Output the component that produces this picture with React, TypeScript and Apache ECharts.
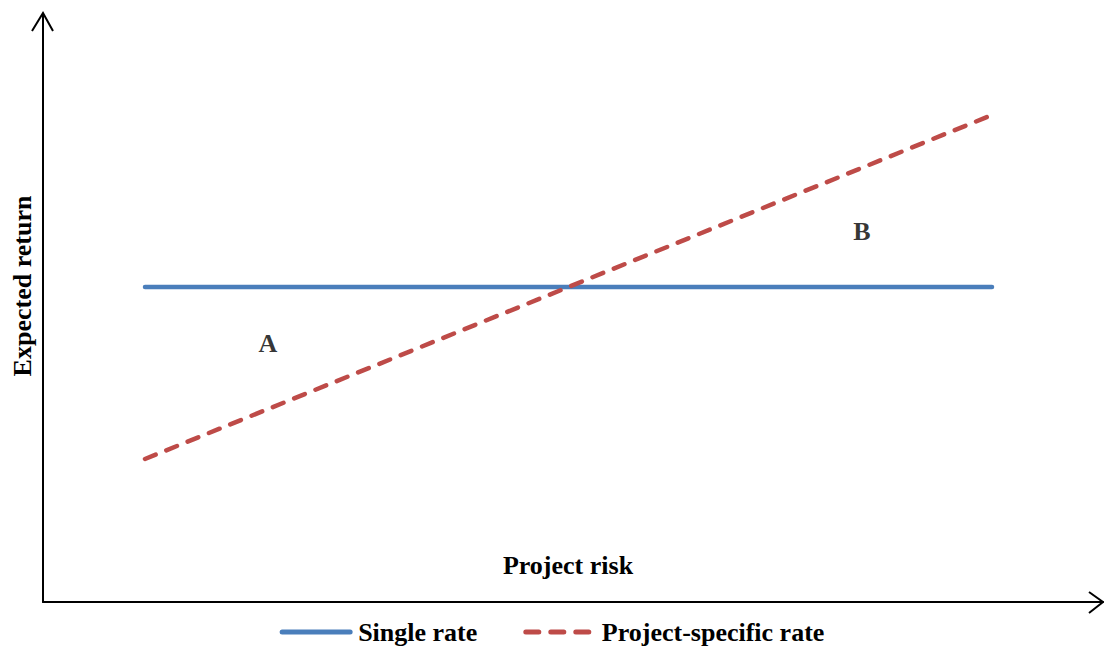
import React, { useEffect, useRef } from "react";
import * as echarts from "echarts";

const riskRange = [1.02, 9.49];
const singleRate = [3.15, 3.15];
const projectSpecificRate = [1.43, 4.87];
const regionLabels = [
  { name: "A", x: 2.25, y: 2.59 },
  { name: "B", x: 8.19, y: 3.71 },
];
const seriesNames = ["Single rate", "Project-specific rate"];
const xTitle = "Project risk";
const yTitle = "Expected return";

const FONT = "'Liberation Serif', 'Times New Roman', serif";
const FS = 26;

export default function App() {
  const ref = useRef<HTMLDivElement>(null);
  useEffect(() => {
    document.body.style.margin = "0";
    const chart = echarts.init(ref.current!, null, { renderer: "svg" });
    const axisColor = "#000";
    chart.setOption({
      animation: false,
      backgroundColor: "#fff",
      grid: { left: 43, top: 14, right: 1, bottom: 50 },
      xAxis: {
        type: "value",
        min: 0,
        max: 10.6,
        axisLine: { show: true, lineStyle: { color: axisColor, width: 2 } },
        axisTick: { show: false },
        axisLabel: { show: false },
        splitLine: { show: false },
      },
      yAxis: {
        type: "value",
        min: 0,
        max: 5.88,
        axisLine: { show: true, lineStyle: { color: axisColor, width: 2 } },
        axisTick: { show: false },
        axisLabel: { show: false },
        splitLine: { show: false },
      },
      legend: {
        bottom: 2,
        left: "center",
        itemWidth: 68,
        itemHeight: 14,
        itemGap: 46,
        itemStyle: { opacity: 0 },
        lineStyle: { width: 5, cap: "round" },
        textStyle: {
          fontFamily: FONT,
          fontWeight: "bold",
          fontSize: FS,
          color: "#000",
          padding: [0, 0, 0, 3],
        },
        data: [
          { name: seriesNames[0] },
          { name: seriesNames[1], lineStyle: { width: 5, cap: "round", type: [13, 12] } },
        ],
      },
      series: [
        {
          name: seriesNames[0],
          type: "line",
          symbol: "none",
          data: riskRange.map((x, i) => [x, singleRate[i]]),
          lineStyle: { color: "#4A7EBB", width: 4.5, cap: "round" },
          itemStyle: { color: "#4A7EBB" },
        },
        {
          name: seriesNames[1],
          type: "line",
          symbol: "none",
          data: riskRange.map((x, i) => [x, projectSpecificRate[i]]),
          lineStyle: { color: "#BE4B48", width: 4.5, cap: "round", type: [11.5, 11.5] },
          itemStyle: { color: "#BE4B48" },
        },
        {
          type: "scatter",
          symbolSize: 0,
          silent: true,
          data: regionLabels.map((d) => ({ name: d.name, value: [d.x, d.y] })),
          label: {
            show: true,
            position: "inside",
            formatter: "{b}",
            fontFamily: FONT,
            fontWeight: "bold",
            fontSize: FS,
            color: "#000",
          },
        },
      ],
      graphic: [
        {
          type: "polyline",
          shape: { points: [[32, 31], [43, 13], [53, 31]] },
          style: { stroke: "#000", lineWidth: 2, fill: null },
        },
        {
          type: "polyline",
          shape: { points: [[1089, 592], [1103, 602], [1089, 613]] },
          style: { stroke: "#000", lineWidth: 2, fill: null },
        },
        {
          type: "text",
          x: 568,
          y: 565,
          style: {
            text: xTitle,
            font: `bold ${FS}px ${FONT}`,
            fill: "#000",
            textAlign: "center",
            textVerticalAlign: "middle",
          },
        },
        {
          type: "text",
          x: 22,
          y: 286,
          rotation: Math.PI / 2,
          style: {
            text: yTitle,
            font: `bold ${FS}px ${FONT}`,
            fill: "#000",
            textAlign: "center",
            textVerticalAlign: "middle",
          },
        },
      ],
    });
    return () => chart.dispose();
  }, []);
  return <div ref={ref} style={{ position: "fixed", left: 0, top: 0, width: 1104, height: 652 }} />;
}
